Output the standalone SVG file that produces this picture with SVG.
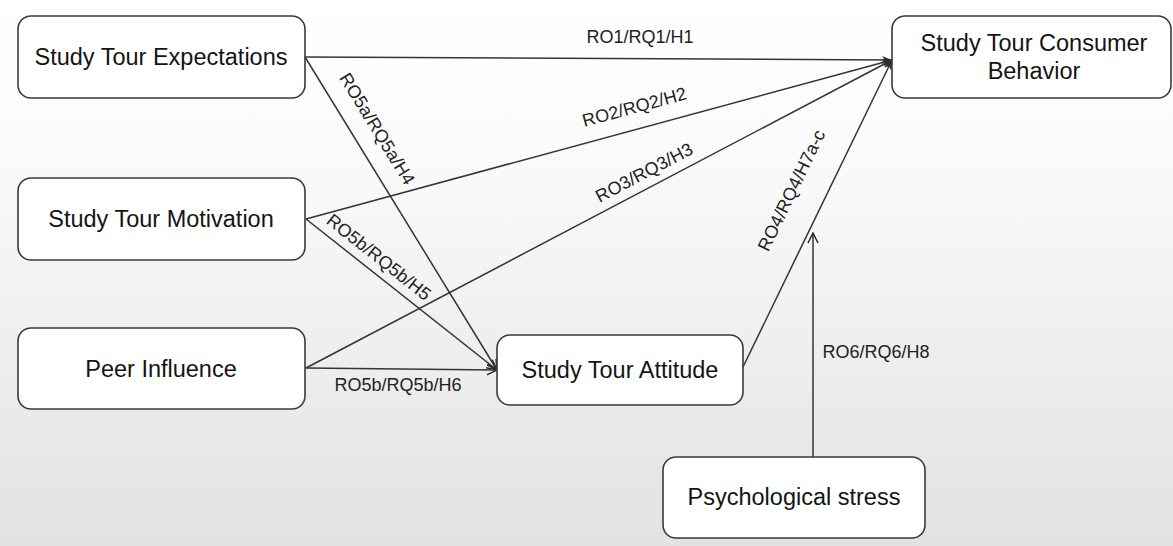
<svg xmlns="http://www.w3.org/2000/svg" width="1173" height="546" viewBox="0 0 1173 546">
<defs>
<linearGradient id="bg" x1="0" y1="0" x2="0" y2="1">
<stop offset="0" stop-color="#ffffff"/>
<stop offset="0.3" stop-color="#fafafa"/>
<stop offset="1" stop-color="#e2e2e2"/>
</linearGradient>
<marker id="fill" viewBox="0 0 10 10" refX="10" refY="5" markerWidth="10" markerHeight="10" markerUnits="userSpaceOnUse" orient="auto">
<path d="M0,1 L10,5 L0,9 L3,5 Z" fill="#2b2b33"/>
</marker>
<marker id="open" viewBox="0 0 12 12" refX="11" refY="6" markerWidth="12" markerHeight="12" markerUnits="userSpaceOnUse" orient="auto">
<path d="M1,1 L11,6 L1,11" fill="none" stroke="#2b2b33" stroke-width="1.5"/>
</marker>
<style>
.node rect { fill: #ffffff; stroke: #3a3a3a; stroke-width: 1.6; }
.node text { font-family: "Liberation Sans", Arial, sans-serif; font-size: 23.5px; fill: #141414; text-anchor: middle; }
.edge { stroke: #33333b; stroke-width: 1.5; fill: none; }
.lbl { font-family: "Liberation Sans", Arial, sans-serif; font-size: 18px; fill: #222; text-anchor: middle; }
</style>
</defs>
<rect width="1173" height="546" fill="url(#bg)"/>

<g id="connectors">
<line class="edge" x1="305" y1="57" x2="892" y2="60" marker-end="url(#fill)"/>
<line class="edge" x1="306" y1="219" x2="892" y2="60" marker-end="url(#fill)"/>
<line class="edge" x1="306" y1="368" x2="892" y2="60" marker-end="url(#fill)"/>
<line class="edge" x1="743" y1="367" x2="892" y2="60" marker-end="url(#fill)" stroke-width="1.2"/>
<line class="edge" x1="305" y1="57" x2="497" y2="370" marker-end="url(#open)"/>
<line class="edge" x1="306" y1="219" x2="497" y2="370" marker-end="url(#open)"/>
<line class="edge" x1="306" y1="368" x2="497" y2="370" marker-end="url(#open)"/>
<line class="edge" x1="813" y1="457" x2="813" y2="233" marker-end="url(#open)"/>
<text class="lbl" x="640" y="43">RO1/RQ1/H1</text>
<text class="lbl" transform="translate(636,113) rotate(-15.2)">RO2/RQ2/H2</text>
<text class="lbl" transform="translate(647,178) rotate(-27.7)">RO3/RQ3/H3</text>
<text class="lbl" transform="translate(372,132) rotate(58.5)">RO5a/RQ5a/H4</text>
<text class="lbl" transform="translate(375,262) rotate(38.3)">RO5b/RQ5b/H5</text>
<text class="lbl" x="398" y="391">RO5b/RQ5b/H6</text>
<text class="lbl" transform="translate(797,193) rotate(-64.2)">RO4/RQ4/H7a-c</text>
<text class="lbl" x="876" y="358">RO6/RQ6/H8</text>
</g>

<g id="n-expectations" class="node">
<rect x="18" y="16" width="287" height="82" rx="13"/>
<text x="161" y="65">Study Tour Expectations</text>
</g>
<g id="n-motivation" class="node">
<rect x="18" y="178" width="287" height="82" rx="13"/>
<text x="161" y="227">Study Tour Motivation</text>
</g>
<g id="n-peer" class="node">
<rect x="18" y="328" width="287" height="81" rx="13"/>
<text x="161" y="377">Peer Influence</text>
</g>
<g id="n-attitude" class="node">
<rect x="497" y="335" width="246" height="70" rx="13"/>
<text x="620" y="378">Study Tour Attitude</text>
</g>
<g id="n-behavior" class="node">
<rect x="892" y="16" width="279" height="82" rx="13"/>
<text x="1034" y="51">Study Tour Consumer</text>
<text x="1034" y="79">Behavior</text>
</g>
<g id="n-stress" class="node">
<rect x="663" y="457" width="262" height="81" rx="13"/>
<text x="794" y="505">Psychological stress</text>
</g>
</svg>
